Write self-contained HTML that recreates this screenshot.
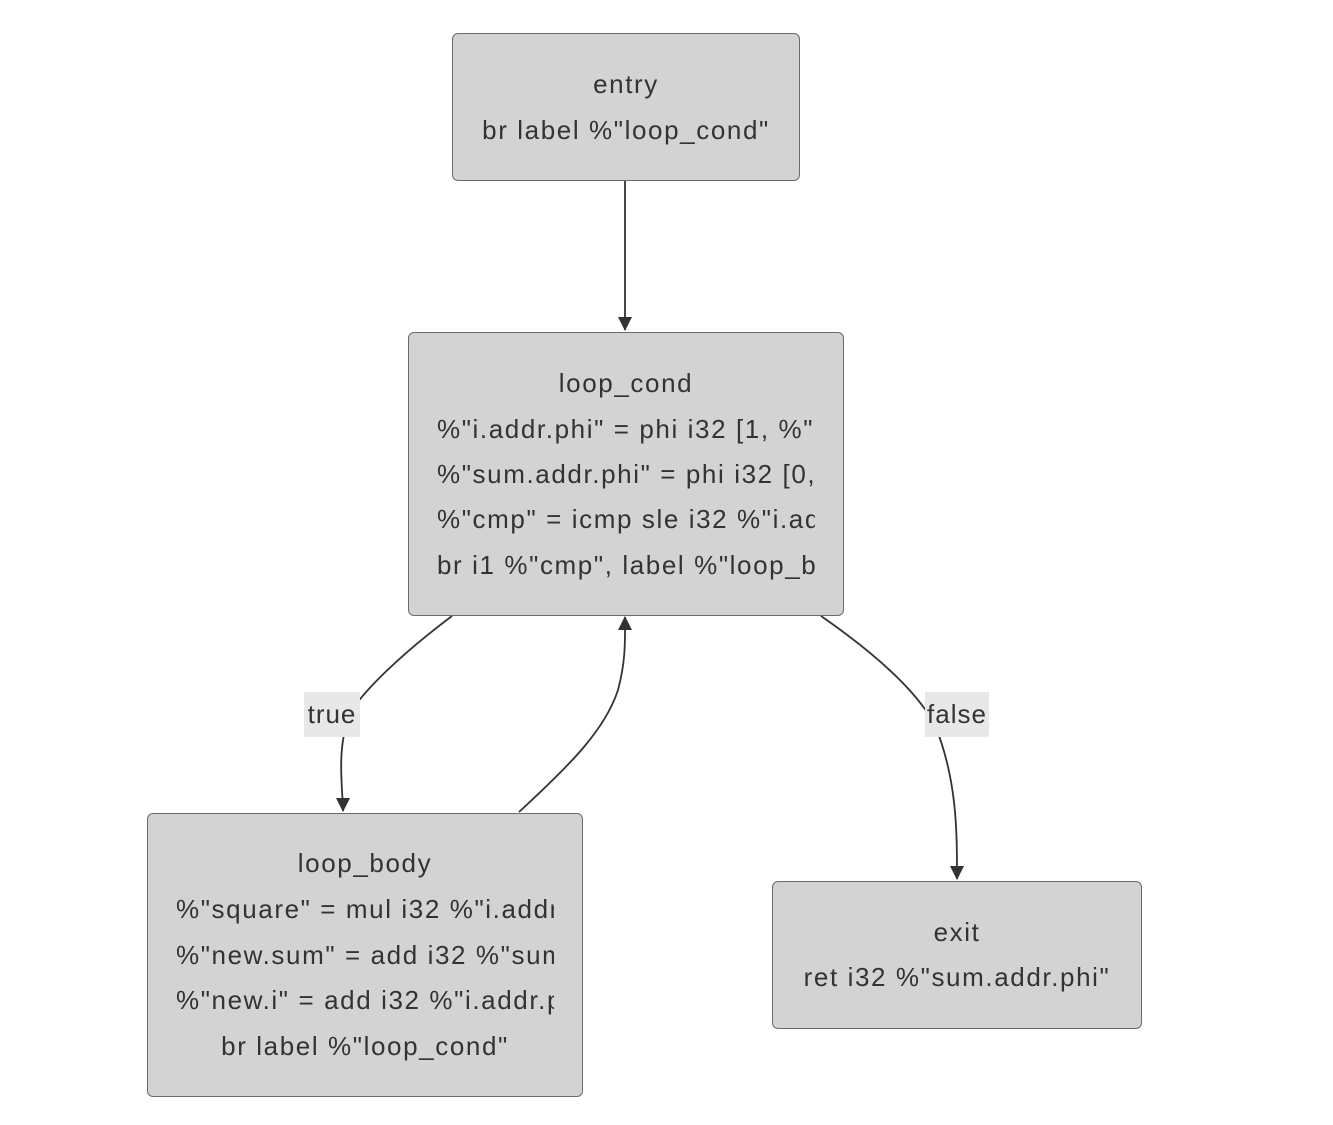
<!DOCTYPE html>
<html><head><meta charset="utf-8"><style>
body{margin:0;width:1333px;height:1125px;background:#fff;position:relative;overflow:hidden;font-family:"Liberation Sans","DejaVu Sans",sans-serif;color:#333;}
.box{position:absolute;background:#d3d3d3;border:1.5px solid #6b6b6b;border-radius:6px;box-sizing:border-box;}
.t{position:absolute;font-size:26px;line-height:30px;white-space:nowrap;letter-spacing:1.6px;}
.c{text-align:center;}
.clip{overflow:hidden;}
.lbl{position:absolute;background:#e8e8e8;font-size:26px;line-height:45px;text-align:center;letter-spacing:1px;}
</style></head><body>
<svg width="1333" height="1125" style="position:absolute;left:0;top:0">
<defs><marker id="b" markerWidth="14" markerHeight="14" refX="13" refY="7" orient="auto" markerUnits="userSpaceOnUse"><path d="M0,0 L14,7 L0,14 z" fill="#333"/></marker></defs>
<g fill="none" stroke="#333" stroke-width="1.8">
<path d="M625,180 L625,330" marker-end="url(#b)"/>
<path d="M452,616 C400,655 365,690 352,710 C335,745 343,790 343,811" marker-end="url(#b)"/>
<path d="M519,812 C570,765 605,730 618,690 C626,660 625,640 625,617" marker-end="url(#b)"/>
<path d="M821,616 C870,650 915,688 935,725 C957,780 957,830 957,879" marker-end="url(#b)"/>
</g></svg>
<div class="box" style="left:452px;top:33px;width:348px;height:148px"></div>
<div class="t c" style="left:452px;width:348px;top:69px">entry</div>
<div class="t c" style="left:452px;width:348px;top:115px">br label %"loop_cond"</div>

<div class="box" style="left:408px;top:332px;width:436px;height:284px"></div>
<div class="t c" style="left:408px;width:436px;top:368px">loop_cond</div>
<div class="t clip" style="left:437px;width:378px;top:414px">%"i.addr.phi" = phi i32 [1, %"entry"]</div>
<div class="t clip" style="left:437px;width:378px;top:459px">%"sum.addr.phi" = phi i32 [0, %"entry"]</div>
<div class="t clip" style="left:437px;width:378px;top:504px">%"cmp" = icmp sle i32 %"i.addr.phi"</div>
<div class="t clip" style="left:437px;width:378px;top:550px">br i1 %"cmp", label %"loop_body"</div>

<div class="box" style="left:147px;top:813px;width:436px;height:284px"></div>
<div class="t c" style="left:147px;width:436px;top:848px">loop_body</div>
<div class="t clip" style="left:176px;width:378px;top:894px">%"square" = mul i32 %"i.addr.phi"</div>
<div class="t clip" style="left:176px;width:378px;top:940px">%"new.sum" = add i32 %"sum.addr"</div>
<div class="t clip" style="left:176px;width:378px;top:985px">%"new.i" = add i32 %"i.addr.phi"</div>
<div class="t c" style="left:147px;width:436px;top:1031px">br label %"loop_cond"</div>

<div class="box" style="left:772px;top:881px;width:370px;height:148px"></div>
<div class="t c" style="left:772px;width:370px;top:917px">exit</div>
<div class="t c" style="left:772px;width:370px;top:962px">ret i32 %"sum.addr.phi"</div>

<div class="lbl" style="left:304px;top:692px;width:56px;height:45px">true</div>
<div class="lbl" style="left:925px;top:692px;width:64px;height:45px">false</div>
</body></html>
